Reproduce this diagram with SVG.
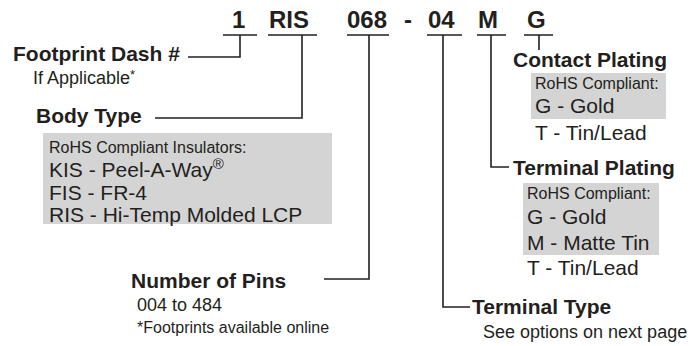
<svg xmlns="http://www.w3.org/2000/svg" width="697" height="346" viewBox="0 0 697 346">
<style>
text{font-family:"Liberation Sans",Arial,Helvetica,sans-serif;fill:#231f20}
.code{font-size:24px;font-weight:bold}
.lbl{font-size:21px;font-weight:bold}
.sub{font-size:18px}
.foot{font-size:16px}
.hdr{font-size:16px}
.item{font-size:21px}
.box{fill:#d4d4d4}
.ln{stroke:#231f20;stroke-width:1.6;fill:none}
</style>
<rect width="697" height="346" fill="#ffffff"/>
<g id="code">
<text class="code" x="232" y="28">1</text>
<text class="code" x="269" y="28">RIS</text>
<text class="code" x="347" y="28">068</text>
<text class="code" x="404" y="28">-</text>
<text class="code" x="428" y="28">04</text>
<text class="code" x="478" y="28">M</text>
<text class="code" x="527" y="28">G</text>
</g>
<g id="connectors" class="ln">
<path d="M223 35H257M240 35V57H188"/>
<path d="M268 35H317M302 35V118H155"/>
<path d="M347 35H389M369 35V279H324"/>
<path d="M427 35H462M443 35V307H470"/>
<path d="M477 35H506M491 35V167H509"/>
<path d="M524 35H553M539 35V50"/>
</g>
<g id="footprint">
<text class="lbl" x="13" y="61">Footprint Dash #</text>
<text class="sub" x="33" y="84">If Applicable<tspan font-size="13" dy="-5">*</tspan></text>
</g>
<g id="body-type">
<text class="lbl" x="36" y="123">Body Type</text>
<rect class="box" x="43" y="133" width="289" height="91"/>
<text class="hdr" x="49" y="153">RoHS Compliant Insulators:</text>
<text class="item" x="49" y="177">KIS - Peel-A-Way<tspan font-size="15" dy="-8">®</tspan></text>
<text class="item" x="49" y="200">FIS - FR-4</text>
<text class="item" x="49" y="222">RIS - Hi-Temp Molded LCP</text>
</g>
<g id="pins">
<text class="lbl" x="131" y="288">Number of Pins</text>
<text class="sub" x="137" y="311">004 to 484</text>
<text class="foot" x="137" y="333">*Footprints available online</text>
</g>
<g id="terminal-type">
<text class="lbl" x="472" y="314">Terminal Type</text>
<text class="sub" x="483" y="338">See options on next page</text>
</g>
<g id="terminal-plating">
<text class="lbl" x="513" y="175">Terminal Plating</text>
<rect class="box" x="523" y="183" width="136" height="72"/>
<text class="hdr" x="527" y="199">RoHS Compliant:</text>
<text class="item" x="527" y="224">G - Gold</text>
<text class="item" x="527" y="250">M - Matte Tin</text>
<text class="item" x="527" y="275">T - Tin/Lead</text>
</g>
<g id="contact-plating">
<text class="lbl" x="513" y="67">Contact Plating</text>
<rect class="box" x="531" y="73" width="135" height="46"/>
<text class="hdr" x="535" y="89">RoHS Compliant:</text>
<text class="item" x="535" y="113">G - Gold</text>
<text class="item" x="535" y="140">T - Tin/Lead</text>
</g>
</svg>
